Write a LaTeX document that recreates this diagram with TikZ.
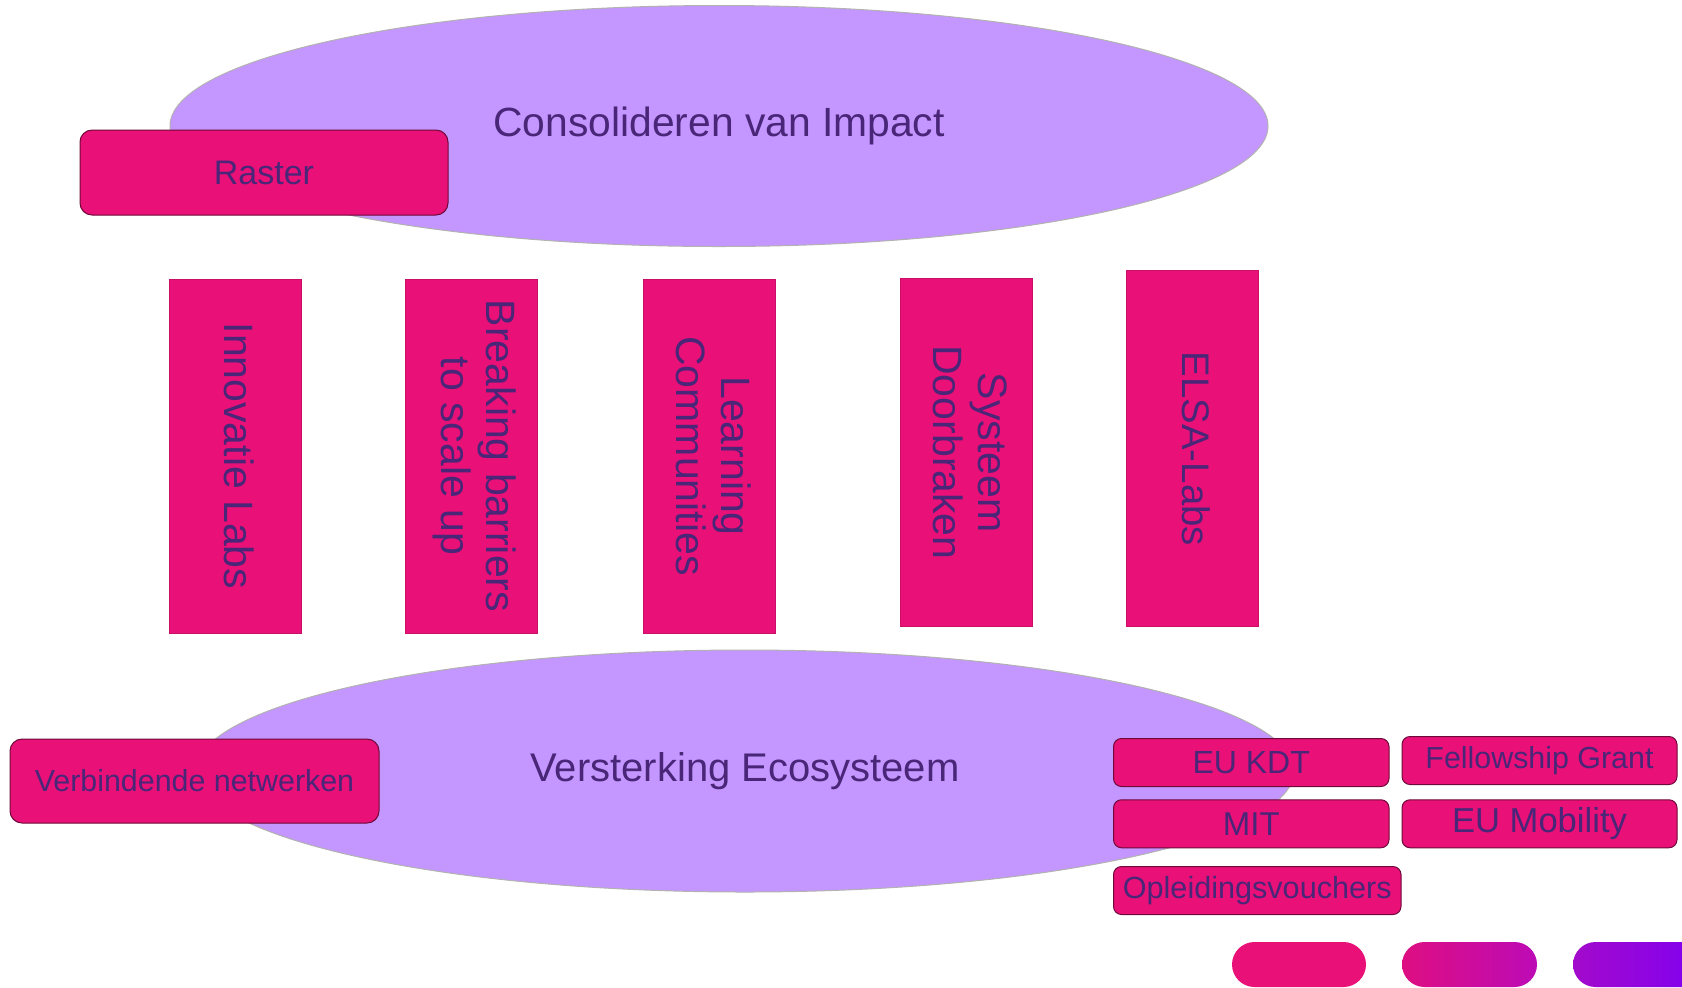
\documentclass[tikz,border=0pt]{standalone}
\usepackage{fontspec}
\setmainfont{Liberation Sans}
\usetikzlibrary{shapes.geometric}
\definecolor{boxpink}{HTML}{E91077}
\definecolor{ellfill}{HTML}{C496FF}
\definecolor{txtpurple}{HTML}{4A2678}
\definecolor{boxline}{HTML}{6E0A3A}
\definecolor{vline}{HTML}{C80F6A}
\definecolor{pillA}{HTML}{DE0E82}
\definecolor{pillB}{HTML}{BC0BB6}
\definecolor{pillC}{HTML}{A30ACB}
\definecolor{pillD}{HTML}{7F00F2}
\begin{document}
\begin{tikzpicture}[x=0.5pt,y=-0.5pt,
  bigell/.style={ellipse, fill=ellfill, draw=black!30, line width=0.5pt, inner sep=0pt,
     text=txtpurple},
  rbox/.style={rectangle, rounded corners=6pt, fill=boxpink, draw=boxline, line width=0.5pt,
     inner sep=0pt, text=txtpurple},
  sbox/.style={rbox, rounded corners=4pt, minimum height=24pt},
  vbox/.style={rectangle, fill=boxpink, draw=vline, line width=0.5pt, inner sep=0pt,
     minimum width=66pt},
  vtext/.style={rotate=-90, align=center, text=txtpurple, inner sep=0pt,
     font=\fontsize{20.5}{22.5}\selectfont},
  pill/.style={rounded corners=11.25pt}
]
\useasboundingbox (0,0) rectangle (1682,987);
\clip (0,0) rectangle (1682,987);

% top ellipse and Raster
\node[bigell, minimum width=549pt, minimum height=120.5pt, font=\fontsize{20.4}{24}\selectfont] (top) at (719,126) {Consolideren van Impact};
\node[rbox, minimum width=184pt, minimum height=42.5pt, font=\fontsize{17}{20}\selectfont] (raster) at (264,172.5) {Raster};

% vertical pillars
\node[vbox, minimum height=177pt] (innov) at (235.5,456) {};
\node[vtext] (innovT) at ([xshift=2pt]innov.center) {Innovatie Labs};
\node[vbox, minimum height=177pt] (break) at (471.5,456) {};
\node[vtext] (breakT) at ([xshift=1.5pt]break.center) {Breaking barriers\\to scale up};
\node[vbox, minimum height=177pt] (learn) at (709.6,456) {};
\node[vtext] (learnT) at ([xshift=2pt]learn.center) {Learning\\Communities};
\node[vbox, minimum height=174.2pt] (syst) at (966,452.5) {};
\node[vtext] (systT) at ([xshift=2pt]syst.center) {Systeem\\Doorbraken};
\node[vbox, minimum height=177.9pt] (elsa) at (1192,448.8) {};
\node[vtext, font=\fontsize{19.2}{22}\selectfont] (elsaT) at ([xshift=2pt]elsa.center) {ELSA-Labs};

% bottom ellipse and boxes
\node[bigell, minimum width=549pt, minimum height=121pt, font=\fontsize{20}{24}\selectfont] (bot) at (745,771) {Versterking Ecosysteem};
\node[rbox, minimum width=184.5pt, minimum height=42pt, font=\fontsize{15.2}{18}\selectfont] (verb) at (194.5,781) {Verbindende netwerken};
\node[sbox, minimum width=137.75pt, font=\fontsize{16}{18}\selectfont] (eukdt) at (1251.25,762.5) {EU KDT};
\node[sbox, minimum width=137.5pt, font=\fontsize{15.2}{18}\selectfont] (fellow) at (1539.5,760.5) {Fellowship Grant};
\node[sbox, minimum width=137.75pt, font=\fontsize{16.5}{18}\selectfont] (mit) at (1251.25,823.75) {MIT};
\node[sbox, minimum width=137.5pt, font=\fontsize{17.3}{18}\selectfont] (eumob) at (1539.5,823.75) {EU Mobility};
\node[sbox, minimum width=143.75pt, font=\fontsize{15.3}{18}\selectfont] (oplei) at (1257.25,890.5) {Opleidingsvouchers};

% decorative pills
\path[pill, fill=boxpink] (1232,942) rectangle (1366,987);
\path[pill, left color=pillA, right color=pillB] (1402,942) rectangle (1537,987);
\path[pill, left color=pillC, right color=pillD] (1573,942) rectangle (1708,987);
\end{tikzpicture}
\end{document}
